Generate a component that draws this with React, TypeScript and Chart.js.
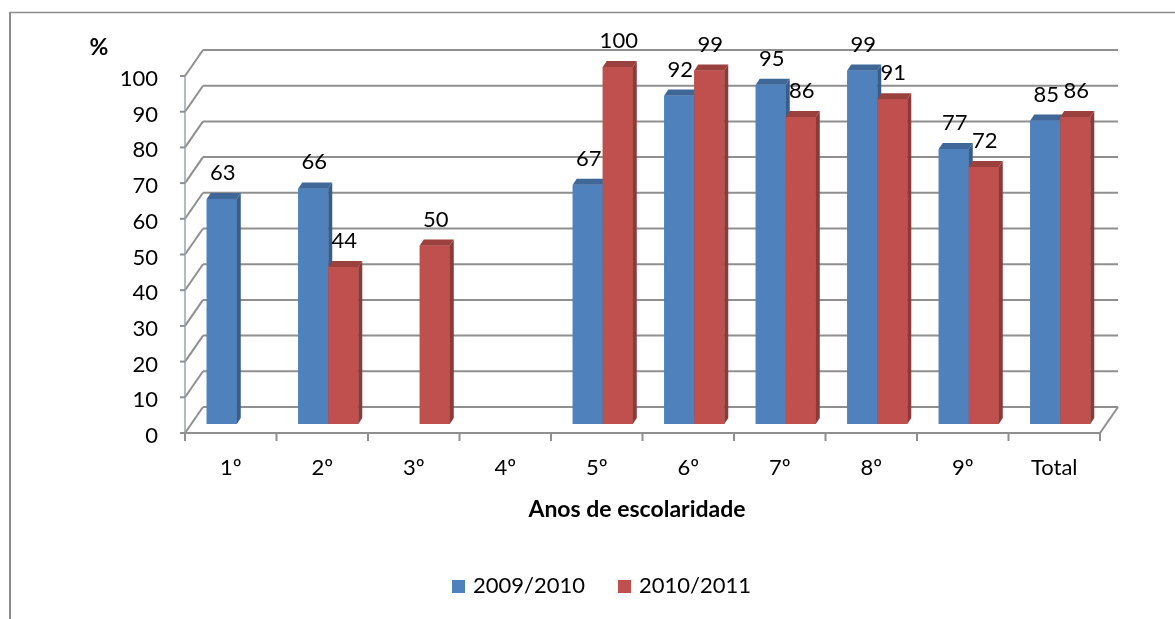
import React, { useEffect, useRef } from 'react';
import { Chart, registerables } from 'chart.js';

Chart.register(...registerables);

// ---- data ----
const categories = ['1º', '2º', '3º', '4º', '5º', '6º', '7º', '8º', '9º', 'Total'];
const series2009 = [63, 66, null, null, 67, 92, 95, 99, 77, 85];
const series2010 = [null, 44, 50, null, 100, 99, 86, 91, 72, 86];
const seriesLabels = ['2009/2010', '2010/2011'];
const yTicks = [0, 10, 20, 30, 40, 50, 60, 70, 80, 90, 100];
const yUnit = '%';
const xTitle = 'Anos de escolaridade';

// ---- styling ----
const FONT = 'Lato, "Open Sans", sans-serif';
const FRONT = { dx: -6, dy: 9 };
const BACK = { dx: 12, dy: -17 };
const BAR_D = { dx: 4, dy: -6 };
const GRID = '#8f8f8f';
const COLORS = [
  { front: '#4F81BD', side: '#385D8A', top: '#3F6797' },
  { front: '#C0504D', side: '#8C3A38', top: '#9A403D' },
];

function line(ctx: CanvasRenderingContext2D, x1: number, y1: number, x2: number, y2: number) {
  ctx.beginPath();
  ctx.moveTo(x1, y1);
  ctx.lineTo(x2, y2);
  ctx.stroke();
}

const threeD = {
  id: 'threeD',
  beforeDatasetsDraw(chart: any) {
    const ctx: CanvasRenderingContext2D = chart.ctx;
    const xs = chart.scales.x;
    const ys = chart.scales.y;
    const L = xs.left;
    const R = xs.right;
    ctx.save();
    // outer frame
    ctx.strokeStyle = '#8c8c8c';
    ctx.lineWidth = 2;
    line(ctx, 10, 12, 10, chart.height);
    ctx.lineWidth = 1.5;
    line(ctx, 10, 12.5, chart.width, 12.5);

    // walls
    ctx.strokeStyle = GRID;
    ctx.lineWidth = 2;
    yTicks.forEach((v) => {
      const yy = ys.getPixelForValue(v);
      line(ctx, L + BACK.dx, yy + BACK.dy, R + BACK.dx, yy + BACK.dy);
      line(ctx, L + FRONT.dx, yy + FRONT.dy, L + BACK.dx, yy + BACK.dy);
    });
    const y0 = ys.getPixelForValue(0);
    // floor
    line(ctx, L + FRONT.dx, y0 + FRONT.dy, R + FRONT.dx, y0 + FRONT.dy);
    line(ctx, R + FRONT.dx, y0 + FRONT.dy, R + BACK.dx, y0 + BACK.dy);
    // front vertical axis
    const yTop = ys.getPixelForValue(yTicks[yTicks.length - 1]);
    ctx.strokeStyle = '#9aa3b0';
    ctx.lineWidth = 1.5;
    line(ctx, L + FRONT.dx, yTop + FRONT.dy, L + FRONT.dx, y0 + FRONT.dy);
    // y ticks + labels
    ctx.strokeStyle = GRID;
    ctx.lineWidth = 2;
    ctx.fillStyle = '#000';
    ctx.font = `22px ${FONT}`;
    ctx.textAlign = 'right';
    ctx.textBaseline = 'alphabetic';
    yTicks.forEach((v) => {
      const yy = ys.getPixelForValue(v) + FRONT.dy;
      line(ctx, L + FRONT.dx - 5, yy, L + FRONT.dx, yy);
      ctx.fillText(String(v), L + FRONT.dx - 27, yy + 10);
    });
    // category ticks + labels
    const n = categories.length;
    const step = (R - L) / n;
    ctx.textAlign = 'center';
    for (let i = 0; i <= n; i++) {
      const xx = L + FRONT.dx + i * step;
      line(ctx, xx, y0 + FRONT.dy, xx, y0 + FRONT.dy + 8);
    }
    ctx.font = `22px ${FONT}`;
    categories.forEach((c, i) => {
      const cx = xs.getPixelForValue(i) + FRONT.dx;
      ctx.fillText(c, cx, y0 + FRONT.dy + 42);
    });
    // axis titles
    ctx.font = `bold 23px ${FONT}`;
    ctx.fillText(xTitle, 637, 517);
    ctx.fillText(yUnit, 99, 55);

    // legend
    ctx.font = `22px ${FONT}`;
    ctx.textAlign = 'left';
    const legendX = [452, 618];
    seriesLabels.forEach((lab, i) => {
      ctx.fillStyle = COLORS[i].front;
      ctx.fillRect(legendX[i], 580, 13, 13);
      ctx.fillStyle = '#000';
      ctx.fillText(lab, legendX[i] + 21, 593);
    });
    ctx.restore();
  },
  afterDatasetsDraw(chart: any) {
    const ctx: CanvasRenderingContext2D = chart.ctx;
    ctx.save();
    const labels: { x: number; y: number; t: string }[] = [];
    [0, 1].forEach((di) => {
      const meta = chart.getDatasetMeta(di);
      const data = chart.data.datasets[di].data;
      const col = COLORS[di];
      meta.data.forEach((bar: any, i: number) => {
        const v = data[i];
        if (v === null || v === undefined) return;
        const p = bar.getProps(['x', 'y', 'base', 'width'], true);
        const l = p.x - p.width / 2;
        const r = p.x + p.width / 2;
        const t = p.y;
        const b = p.base;
        ctx.fillStyle = col.front;
        ctx.fillRect(l, t, r - l, b - t);
        // side
        ctx.fillStyle = col.side;
        ctx.beginPath();
        ctx.moveTo(r, t);
        ctx.lineTo(r + BAR_D.dx, t + BAR_D.dy);
        ctx.lineTo(r + BAR_D.dx, b + BAR_D.dy);
        ctx.lineTo(r, b);
        ctx.closePath();
        ctx.fill();
        // top
        ctx.fillStyle = col.top;
        ctx.beginPath();
        ctx.moveTo(l, t);
        ctx.lineTo(l + BAR_D.dx, t + BAR_D.dy);
        ctx.lineTo(r + BAR_D.dx, t + BAR_D.dy);
        ctx.lineTo(r, t);
        ctx.closePath();
        ctx.fill();
        labels.push({ x: p.x + 1, y: t - 19, t: String(v) });
      });
    });
    ctx.fillStyle = '#000';
    ctx.font = `22px ${FONT}`;
    ctx.textAlign = 'center';
    ctx.textBaseline = 'alphabetic';
    labels.forEach((lb) => ctx.fillText(lb.t, lb.x, lb.y));
    ctx.restore();
  },
};

export default function App() {
  const ref = useRef<HTMLCanvasElement | null>(null);
  useEffect(() => {
    if (!ref.current) return;
    const chart = new Chart(ref.current, {
      type: 'bar',
      data: {
        labels: categories,
        datasets: [
          { label: seriesLabels[0], data: series2009, backgroundColor: COLORS[0].front, borderWidth: 0 },
          { label: seriesLabels[1], data: series2010, backgroundColor: COLORS[1].front, borderWidth: 0 },
        ],
      },
      options: {
        responsive: false,
        animation: false,
        events: [],
        layout: { padding: { left: 191, right: 69, top: 67, bottom: 195 } },
        datasets: { bar: { categoryPercentage: 0.656, barPercentage: 1 } },
        scales: {
          x: { display: false },
          y: { display: false, min: 0, max: 100 },
        },
        plugins: { legend: { display: false }, tooltip: { enabled: false }, title: { display: false } },
      } as any,
      plugins: [threeD as any],
    });
    return () => chart.destroy();
  }, []);
  return (
    <div style={{ position: 'fixed', left: 0, top: 0, width: 1175, height: 619, background: '#fff' }}>
      <canvas ref={ref} width={1175} height={619} style={{ width: 1175, height: 619, display: 'block' }} />
    </div>
  );
}
